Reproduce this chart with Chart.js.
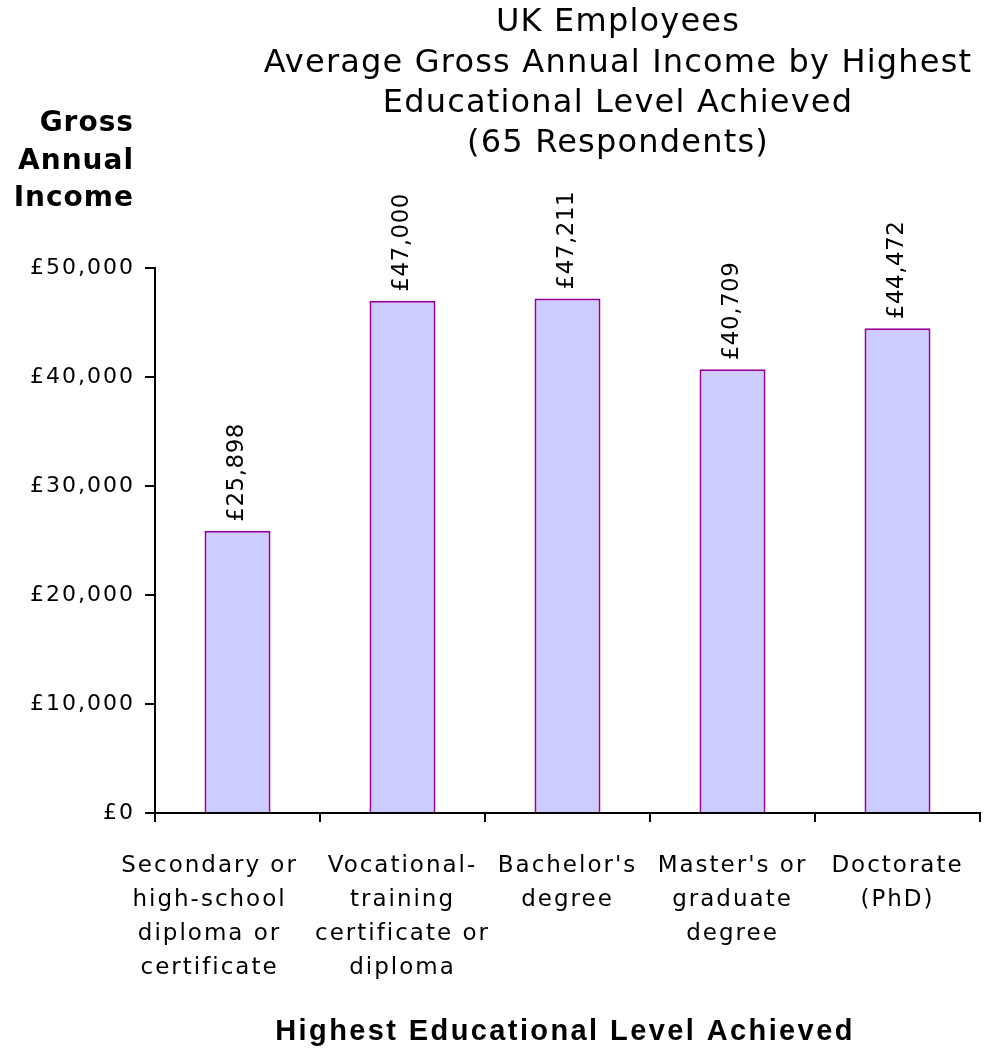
<!DOCTYPE html>
<html>
<head>
<meta charset="utf-8">
<title>UK Employees - Average Gross Annual Income</title>
<script src="https://cdn.jsdelivr.net/npm/chart.js@4/dist/chart.umd.min.js"></script>
<style>
    html, body { margin: 0; padding: 0; background: #fff; }
    #wrap { width: 987px; height: 1052px; }
</style>
</head>
<body>
<div id="wrap"><canvas id="incomeChart" width="987" height="1052"></canvas></div>
<script>
const educationLevels = [
    ['Secondary or', 'high-school', 'diploma or', 'certificate'],
    ['Vocational-', 'training', 'certificate or', 'diploma'],
    ['Bachelor\'s', 'degree'],
    ['Master\'s or', 'graduate', 'degree'],
    ['Doctorate', '(PhD)']
];
const averageIncome = [25898, 47000, 47211, 40709, 44472];
const titleLines = ['UK Employees', 'Average Gross Annual Income by Highest', 'Educational Level Achieved', '(65 Respondents)'];
const yTitleLines = ['Gross', 'Annual', 'Income'];
const xTitle = 'Highest Educational Level Achieved';

const FONT = "'DejaVu Sans', Verdana, sans-serif";
const gbp = (v) => '£' + v.toLocaleString('en-GB');

// titles and the rotated value labels, drawn straight onto the canvas
const labelsPlugin = {
    id: 'labels',
    beforeDraw(chart) {
        chart.ctx.letterSpacing = '2px';
    },
    afterDatasetsDraw(chart) {
        const ctx = chart.ctx;
        const meta = chart.getDatasetMeta(0);
        ctx.save();
        ctx.fillStyle = '#000';
        ctx.font = '23px ' + FONT;
        ctx.letterSpacing = '0.5px';
        ctx.textAlign = 'left';
        ctx.textBaseline = 'middle';
        meta.data.forEach((bar, i) => {
            ctx.save();
            ctx.translate(bar.x, bar.y - 9);
            ctx.rotate(-Math.PI / 2);
            ctx.fillText(gbp(averageIncome[i]), 0, 0);
            ctx.restore();
        });
        ctx.restore();
    },
    afterDraw(chart) {
        const ctx = chart.ctx;
        ctx.save();
        ctx.fillStyle = '#000';
        ctx.textBaseline = 'middle';

        ctx.font = '32px ' + FONT;
        ctx.letterSpacing = '1.2px';
        ctx.textAlign = 'center';
        titleLines.forEach((line, i) => ctx.fillText(line, 618, 23 + i * 40.3));

        ctx.font = 'bold 28px ' + FONT;
        ctx.letterSpacing = '1px';
        ctx.textAlign = 'right';
        yTitleLines.forEach((line, i) => ctx.fillText(line, 134, 124 + i * 37.5));

        ctx.font = "bold 29px 'Liberation Sans', Arial, sans-serif";
        ctx.letterSpacing = '2.4px';
        ctx.textAlign = 'center';
        ctx.fillText(xTitle, 565, 1032);
        ctx.restore();
        ctx.letterSpacing = '0px';
    }
};

document.addEventListener('DOMContentLoaded', () => {
    const incomeCtx = document.getElementById('incomeChart');
    new Chart(incomeCtx, {
        type: 'bar',
        data: {
            labels: educationLevels,
            datasets: [{
                data: averageIncome,
                backgroundColor: '#CCCCFF',
                borderColor: '#990099',
                borderWidth: 2,
                barPercentage: 0.4,
                categoryPercentage: 1.0
            }]
        },
        options: {
            responsive: false,
            animation: false,
            layout: { padding: { top: 268, right: 7, bottom: 0, left: 0 } },
            plugins: {
                legend: { display: false },
                tooltip: { enabled: false }
            },
            scales: {
                x: {
                    afterFit: (scale) => { scale.height = 239; },
                    grid: {
                        offset: true,
                        drawOnChartArea: false,
                        color: '#000',
                        lineWidth: 2,
                        tickLength: 9
                    },
                    border: { color: '#000', width: 2 },
                    ticks: {
                        color: '#000',
                        padding: 27,
                        maxRotation: 0,
                        autoSkip: false,
                        font: { family: FONT, size: 23, lineHeight: 1.48 },
                        // first label block sits left of its bar so it clears the next one
                        callback: (v, i) => i === 0
                            ? educationLevels[0].map((l) => l + '      ')
                            : educationLevels[i]
                    }
                },
                y: {
                    min: 0,
                    max: 50000,
                    afterFit: (scale) => { scale.width = 155; },
                    grid: {
                        drawOnChartArea: false,
                        color: '#000',
                        lineWidth: 2,
                        tickLength: 10
                    },
                    border: { color: '#000', width: 2 },
                    ticks: {
                        stepSize: 10000,
                        color: '#000',
                        padding: 10,
                        font: { family: FONT, size: 22 },
                        callback: (v) => gbp(v)
                    }
                }
            }
        },
        plugins: [labelsPlugin]
    });
});
</script>
</body>
</html>
